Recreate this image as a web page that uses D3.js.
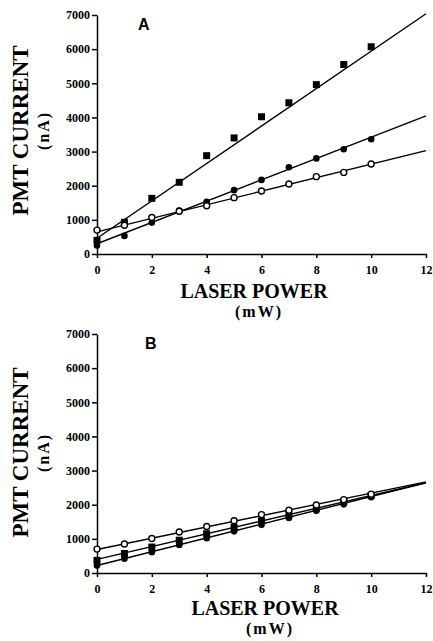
<!DOCTYPE html>
<html>
<head>
<meta charset="utf-8">
<script src="https://cdn.jsdelivr.net/npm/d3@7"></script>
<style>
  body { margin: 0; background: #fff; }
  svg { display: block; }
  .axis path, .axis line { stroke: #000; stroke-width: 1.5px; }
  .title { font-family: "Liberation Serif", "DejaVu Serif", serif; font-weight: bold; fill: #000; }
  .panel-label { font-family: "Liberation Sans", Arial, sans-serif; font-weight: bold; font-size: 16px; fill: #000; }
</style>
</head>
<body>
<div id="chart"></div>
<script>
// x values (laser power, mW)
const power = [0, 1, 2, 3, 4, 5, 6, 7, 8, 9, 10];
const xTicks = [0, 2, 4, 6, 8, 10, 12];
const yTicks = [0, 1000, 2000, 3000, 4000, 5000, 6000, 7000];

// Panel A readings (PMT current, nA)
const aSquares = [400, 930, 1630, 2100, 2880, 3400, 4020, 4430, 4960, 5550, 6070];
const aFilled = [250, 530, 920, 1270, 1530, 1870, 2170, 2540, 2800, 3070, 3360];
const aOpen = [700, 840, 1070, 1250, 1415, 1650, 1845, 2050, 2265, 2390, 2635];

// Panel B readings
const bOpen = [700, 850, 1010, 1200, 1360, 1530, 1710, 1840, 1990, 2150, 2310];
const bSquares = [370, 570, 760, 960, 1150, 1340, 1530, 1710, 1900, 2090, 2270];
const bFilled = [220, 420, 610, 820, 1020, 1220, 1410, 1610, 1820, 2010, 2220];

// fitted lines as drawn: [intercept, slope]
const aFits = [[460, 548], [300, 312], [650, 198]];
const bFits = [[690, 165], [400, 187], [220, 202]];

const W = 433, H = 641;
const serif = "'Liberation Serif', 'DejaVu Serif', serif";
const svg = d3.select("#chart").append("svg").attr("width", W).attr("height", H);

function panel(cfg) {
  const x = d3.scaleLinear().domain([0, 12]).range([97, 426]);
  const y = d3.scaleLinear().domain([0, 7000]).range([cfg.bottom, cfg.top]);
  const g = svg.append("g");

  const xAxis = g.append("g")
    .attr("class", "axis")
    .attr("transform", `translate(0,${cfg.bottom})`)
    .call(d3.axisBottom(x).tickValues(xTicks).tickFormat(d3.format("d"))
      .tickSize(4).tickSizeOuter(0).tickPadding(7));

  const yAxis = g.append("g")
    .attr("class", "axis")
    .attr("transform", "translate(97,0)")
    .call(d3.axisLeft(y).tickValues(yTicks).tickFormat(d3.format("d"))
      .tickSize(5).tickSizeOuter(0).tickPadding(2));

  [xAxis, yAxis].forEach(a => {
    a.attr("font-family", serif);
    a.selectAll(".tick text")
      .style("font-family", serif)
      .attr("font-weight", "bold")
      .attr("font-size", 12)
      .attr("fill", "#000");
  });

  // fit lines
  cfg.fits.forEach(f => {
    g.append("line")
      .attr("x1", x(0)).attr("y1", y(f[0]))
      .attr("x2", x(12)).attr("y2", y(f[0] + f[1] * 12))
      .attr("stroke", "#000").attr("stroke-width", 1.4);
  });

  // markers
  cfg.series.forEach(s => {
    const pts = g.append("g").selectAll("g").data(s.values).join("g")
      .attr("transform", (d, i) => `translate(${x(power[i])},${y(d)})`);
    if (s.type === "square") {
      pts.append("rect").attr("x", -3.5).attr("y", -3.5).attr("width", 7).attr("height", 7).attr("fill", "#000");
    } else if (s.type === "filled") {
      pts.append("circle").attr("r", 3.3).attr("fill", "#000");
    } else {
      pts.append("circle").attr("r", 3).attr("fill", "#fff").attr("stroke", "#000").attr("stroke-width", 1.4);
    }
  });

  g.append("text").attr("class", "panel-label")
    .attr("x", cfg.labelX).attr("y", cfg.top + 15).text(cfg.label);

  const cy = (cfg.top + cfg.bottom) / 2 + cfg.yTitleShift;
  g.append("text").attr("class", "title")
    .attr("transform", `translate(28,${cy}) rotate(-90)`)
    .attr("text-anchor", "middle").attr("font-size", 23).text("PMT CURRENT");
  g.append("text").attr("class", "title")
    .attr("transform", `translate(49,${cy}) rotate(-90)`)
    .attr("text-anchor", "middle").attr("font-size", 16)
    .attr("letter-spacing", 2).text("(nA)");

  g.append("text").attr("class", "title")
    .attr("x", cfg.xTitleX).attr("y", cfg.xTitleY)
    .attr("text-anchor", "middle").attr("font-size", 20).text("LASER POWER");
  g.append("text").attr("class", "title")
    .attr("x", cfg.xTitleX + 5).attr("y", cfg.xTitleY + 19)
    .attr("text-anchor", "middle").attr("font-size", 16)
    .attr("letter-spacing", 2).text("(mW)");
}

panel({
  top: 15, bottom: 254, label: "A", labelX: 138,
  xTitleX: 254, xTitleY: 298, yTitleShift: -4,
  fits: aFits,
  series: [
    { type: "square", values: aSquares },
    { type: "filled", values: aFilled },
    { type: "open", values: aOpen }
  ]
});

panel({
  top: 334, bottom: 573, label: "B", labelX: 145,
  xTitleX: 265, xTitleY: 615, yTitleShift: -1,
  fits: bFits,
  series: [
    { type: "square", values: bSquares },
    { type: "filled", values: bFilled },
    { type: "open", values: bOpen }
  ]
});
</script>
</body>
</html>
